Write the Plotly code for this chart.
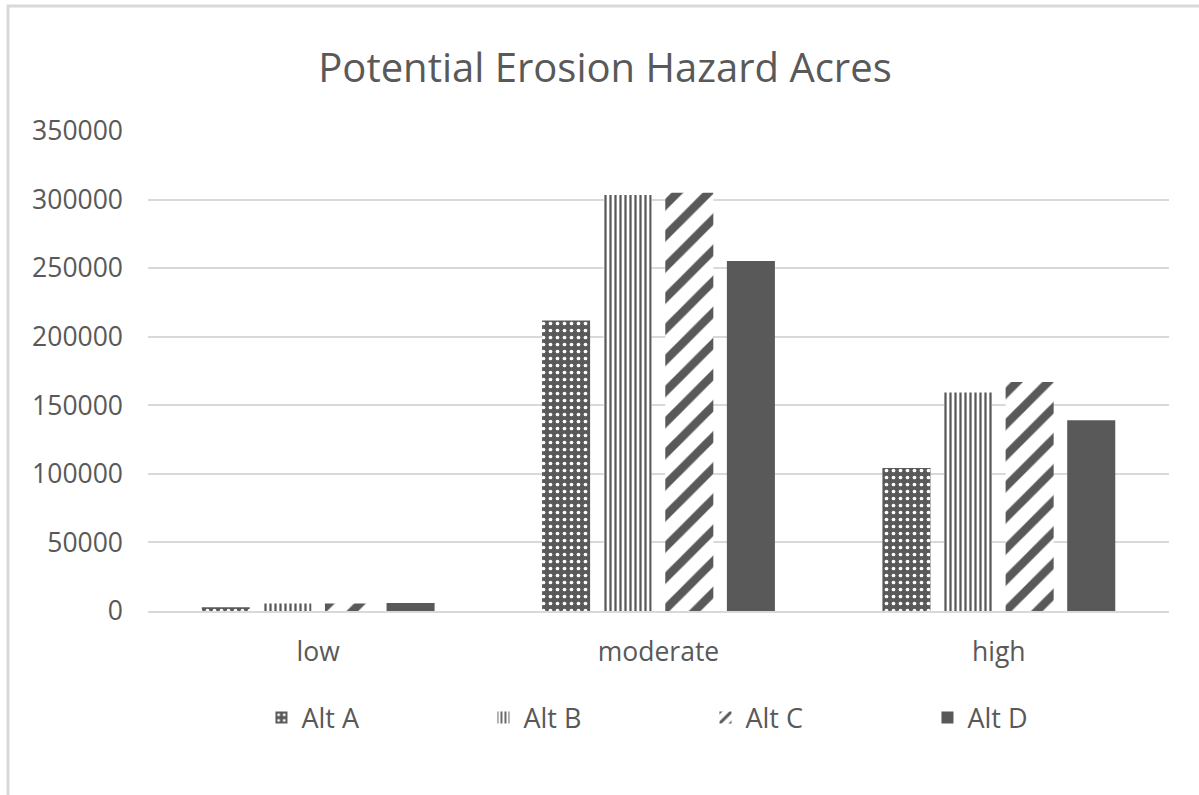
import plotly.graph_objects as go

# Erosion hazard classes and acreage by alternative
categories = ["low", "moderate", "high"]
alt_a = [2800, 211900, 104300]
alt_b = [5500, 303300, 159300]
alt_c = [5500, 305000, 167000]
alt_d = [5800, 255200, 139100]

series_names = ["Alt A", "Alt B", "Alt C", "Alt D"]
y_ticks = [0, 50000, 100000, 150000, 200000, 250000, 300000, 350000]

DARK = "#595959"
GRID = "#d9d9d9"
FONT = "Open Sans"

patterns = [
    dict(shape=".", size=7, solidity=0.22, fgcolor="white", bgcolor=DARK, fgopacity=1),
    dict(shape="|", size=5, solidity=0.45, fgcolor=DARK, bgcolor="white", fgopacity=1),
    dict(shape="/", size=22, solidity=0.38, fgcolor=DARK, bgcolor="white", fgopacity=1),
    dict(shape="", fgcolor=DARK, bgcolor=DARK),
]

fig = go.Figure()
for name, vals, pat in zip(series_names, [alt_a, alt_b, alt_c, alt_d], patterns):
    fig.add_trace(go.Bar(
        name=name, x=categories, y=vals,
        marker=dict(color=DARK, pattern=pat, line=dict(width=0)),
    ))

# plot area geometry in pixels
W, H = 1199, 795
L, R, T, B = 148, 30, 131, 184
pw = W - L - R
ph = H - T - B
y0_px = H - B  # pixel row of the zero line


def px_x(x):
    return (x - L) / pw


def px_y(y):
    return (y0_px - y) / ph


# chart frame (only the top and left edges fall inside the page)
fig.add_shape(type="rect", xref="paper", yref="paper",
              x0=px_x(8), x1=px_x(W + 20), y0=px_y(H + 20), y1=px_y(6),
              line=dict(color=GRID, width=3), fillcolor="rgba(0,0,0,0)", layer="below")

fig.update_layout(
    width=W, height=H,
    margin=dict(l=L, r=R, t=T, b=B),
    paper_bgcolor="white", plot_bgcolor="white",
    barmode="group", bargap=0.276, bargroupgap=0.22,
    title=dict(text="Potential Erosion Hazard Acres", x=605 / W, xanchor="center",
               y=1 - 68 / H, yanchor="middle", yref="container",
               font=dict(family=FONT, size=40, color=DARK)),
    font=dict(family=FONT, color=DARK),
    xaxis=dict(showgrid=False, showline=True, linecolor=GRID, linewidth=1.5,
               ticks="", tickfont=dict(size=26.5, color=DARK), ticklabelstandoff=16),
    yaxis=dict(range=[0, 350000], tickvals=y_ticks, tickformat="d",
               showgrid=True, gridcolor=GRID, gridwidth=1.5, zeroline=False,
               showline=False, ticks="", tickfont=dict(size=26.5, color=DARK),
               ticklabelstandoff=24),
    legend=dict(orientation="h", x=0.546, xanchor="center", y=px_y(718),
                yanchor="middle", font=dict(size=27, color=DARK),
                entrywidth=177, entrywidthmode="pixels", itemwidth=30),
    showlegend=True,
)

fig.write_html("out.html")
